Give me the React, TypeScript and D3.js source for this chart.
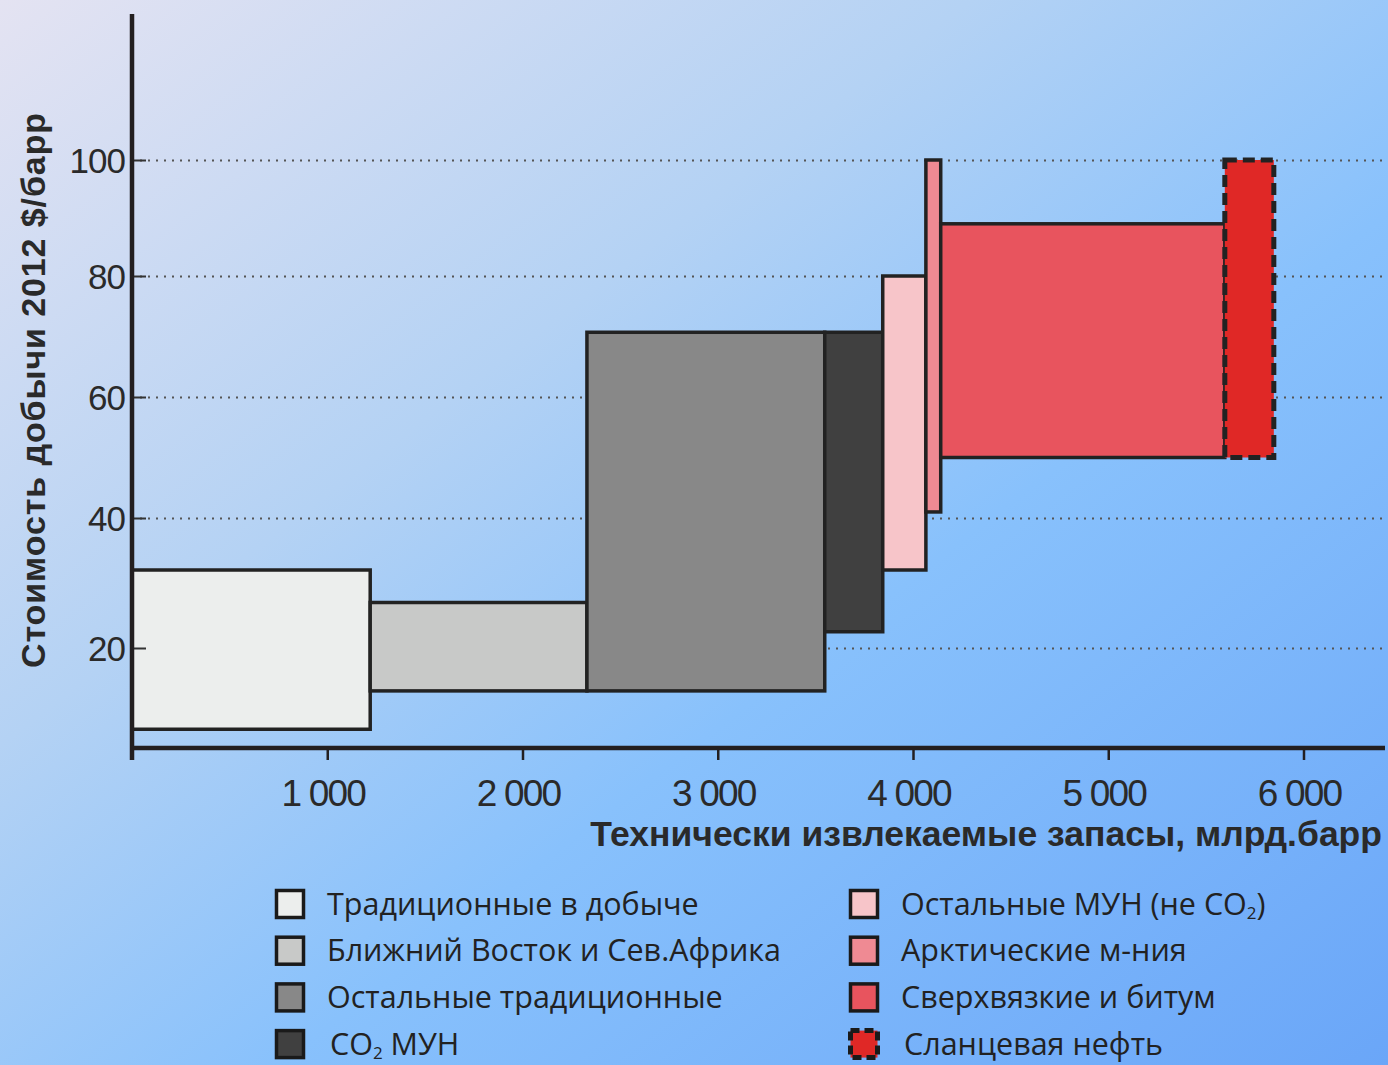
import React, { useEffect, useRef } from 'react';
import * as d3 from 'd3';

// Categories of oil resources (left to right on the supply curve)
const categories = [
  'Традиционные в добыче',
  'Ближний Восток и Сев.Африка',
  'Остальные традиционные',
  'CO₂ МУН',
  'Остальные МУН (не CO₂)',
  'Арктические м-ния',
  'Сверхвязкие и битум',
  'Сланцевая нефть',
];
// technically recoverable volume, bn barrels
const volumes = [1220, 1110, 1218, 297, 221, 76, 1455, 251];
// production cost range, 2012 $/bbl
const costLow = [7.5, 13.4, 13.4, 22.5, 32, 41, 50, 50];
const costHigh = [32, 27, 70.7, 70.7, 80, 100, 89, 100];

const xTicks = [1000, 2000, 3000, 4000, 5000, 6000];
const yTicks = [20, 40, 60, 80, 100];

const colors = ['#eceeed', '#c8c9c8', '#888888', '#404040', '#f7c5c9', '#ef8a93', '#e8545e', '#e02826'];

const W = 1388;
const H = 1065;

export default function App() {
  const svgRef = useRef<SVGSVGElement>(null);

  useEffect(() => {
    const svg = d3.select(svgRef.current);
    svg.selectAll('*').remove();

    const x = d3.scaleLinear().domain([0, 6000]).range([132, 1303.5]);
    // the source picture's value axis is not quite even, so a piecewise scale
    const y = d3.scaleLinear().domain([20, 40, 60, 80, 100]).range([648, 518, 397, 276, 160]);

    const defs = svg.append('defs');
    const grad = defs.append('linearGradient')
      .attr('id', 'bg')
      .attr('x1', '0%').attr('y1', '0%')
      .attr('x2', '100%').attr('y2', '100%');
    grad.append('stop').attr('offset', '0%').attr('stop-color', '#e4e3f2');
    grad.append('stop').attr('offset', '35%').attr('stop-color', '#b4d2f4');
    grad.append('stop').attr('offset', '60%').attr('stop-color', '#88c1fc');
    grad.append('stop').attr('offset', '100%').attr('stop-color', '#6aa6f8');

    svg.append('rect').attr('width', W).attr('height', H).attr('fill', 'url(#bg)');

    const axisFont = '"Liberation Sans", Arial, sans-serif';

    // Grid lines
    const grid = svg.append('g')
      .attr('transform', 'translate(132,0)')
      .call(d3.axisRight(y).tickValues(yTicks).tickSize(1253).tickFormat(() => ''));
    grid.select('.domain').remove();
    grid.selectAll('line')
      .attr('stroke', '#555')
      .attr('stroke-width', 2)
      .attr('stroke-dasharray', '2,6');

    // Bars of the supply curve
    const starts = d3.cumsum([0, ...volumes]);
    const bars = categories.map((c, i) => ({
      name: c,
      x0: starts[i],
      x1: starts[i + 1],
      lo: costLow[i],
      hi: costHigh[i],
      color: colors[i],
      dashed: i === categories.length - 1,
    }));

    svg.append('g')
      .selectAll('rect')
      .data(bars)
      .join('rect')
      .attr('x', d => x(d.x0))
      .attr('y', d => y(d.hi))
      .attr('width', d => x(d.x1) - x(d.x0))
      .attr('height', d => y(d.lo) - y(d.hi))
      .attr('fill', d => d.color)
      .attr('stroke', '#222')
      .attr('stroke-width', d => (d.dashed ? 5 : 3.5))
      .attr('stroke-dasharray', d => (d.dashed ? '12,6' : null));

    // Y axis
    const yAxis = svg.append('g')
      .attr('transform', 'translate(132,0)')
      .call(d3.axisRight(y).tickValues(yTicks).tickSize(14).tickFormat(() => ''));
    yAxis.select('.domain').remove();
    yAxis.selectAll('line').attr('stroke', '#333').attr('stroke-width', 2);

    svg.append('line')
      .attr('x1', 132).attr('x2', 132)
      .attr('y1', 14).attr('y2', 760)
      .attr('stroke', '#231f20').attr('stroke-width', 4.5);

    svg.append('g')
      .selectAll('text')
      .data(yTicks)
      .join('text')
      .attr('x', 125)
      .attr('y', d => y(d))
      .attr('dy', '0.36em')
      .attr('text-anchor', 'end')
      .attr('font-family', axisFont)
      .attr('font-size', 35)
      .attr('letter-spacing', -1)
      .attr('fill', '#2a2a2a')
      .text(d => d);

    // X axis
    const xAxis = svg.append('g')
      .attr('transform', 'translate(0,748)')
      .call(d3.axisBottom(x).tickValues(xTicks).tickSize(12).tickFormat(() => ''));
    xAxis.select('.domain').remove();
    xAxis.selectAll('line').attr('stroke', '#231f20').attr('stroke-width', 2.5);

    svg.append('line')
      .attr('x1', 130).attr('x2', 1385)
      .attr('y1', 748).attr('y2', 748)
      .attr('stroke', '#231f20').attr('stroke-width', 4.5);

    svg.append('g')
      .selectAll('text')
      .data(xTicks)
      .join('text')
      .attr('x', d => x(d) - 4)
      .attr('y', 806)
      .attr('text-anchor', 'middle')
      .attr('font-family', axisFont)
      .attr('font-size', 37)
      .attr('letter-spacing', -1.8)
      .attr('fill', '#2a2a2a')
      .text(d => d3.format(',')(d).replace(',', ' '));

    // Axis titles
    svg.append('text')
      .attr('x', 1382)
      .attr('y', 846)
      .attr('text-anchor', 'end')
      .attr('font-family', axisFont)
      .attr('font-weight', 'bold')
      .attr('font-size', 35.5)
      .attr('fill', '#2a2a2a')
      .text('Технически извлекаемые запасы, млрд.барр');

    svg.append('text')
      .attr('transform', 'translate(45,390) rotate(-90)')
      .attr('text-anchor', 'middle')
      .attr('font-family', axisFont)
      .attr('font-weight', 'bold')
      .attr('font-size', 34)
      .attr('letter-spacing', 0.9)
      .attr('fill', '#2a2a2a')
      .text('Стоимость добычи 2012 $/барр');

    // Legend
    const legendFont = '"Open Sans", "Noto Sans", sans-serif';
    const legend = svg.append('g');
    const item = legend.selectAll('g')
      .data(bars)
      .join('g')
      .attr('transform', (d, i) => `translate(${i < 4 ? 275 : 849},${904 + (i % 4) * 46.7})`);

    item.append('rect')
      .attr('x', 1.5).attr('y', -13.5)
      .attr('width', 27).attr('height', 27)
      .attr('fill', d => d.color)
      .attr('stroke', '#1a1a1a')
      .attr('stroke-width', d => (d.dashed ? 5 : 3.5))
      .attr('stroke-dasharray', d => (d.dashed ? '9,5' : null));

    const label = item.append('text')
      .attr('x', (d, i) => (i === 3 || i === 7 ? 55 : 52))
      .attr('y', 0)
      .attr('dy', '0.35em')
      .attr('font-family', legendFont)
      .attr('font-size', 30.5)
      .attr('fill', '#222');

    // render the "2" of CO2 as a subscript
    label.each(function (d) {
      const t = d3.select(this);
      const parts = d.name.split('₂');
      parts.forEach((p, k) => {
        const span = t.append('tspan').text(p);
        if (k > 0) span.attr('dy', -4);
        if (k < parts.length - 1) {
          t.append('tspan').attr('font-size', 17).attr('dy', 4).text('2');
        }
      });
    });
  }, []);

  return (
    <svg
      ref={svgRef}
      width={W}
      height={H}
      style={{ position: 'absolute', left: 0, top: 0 }}
    />
  );
}
